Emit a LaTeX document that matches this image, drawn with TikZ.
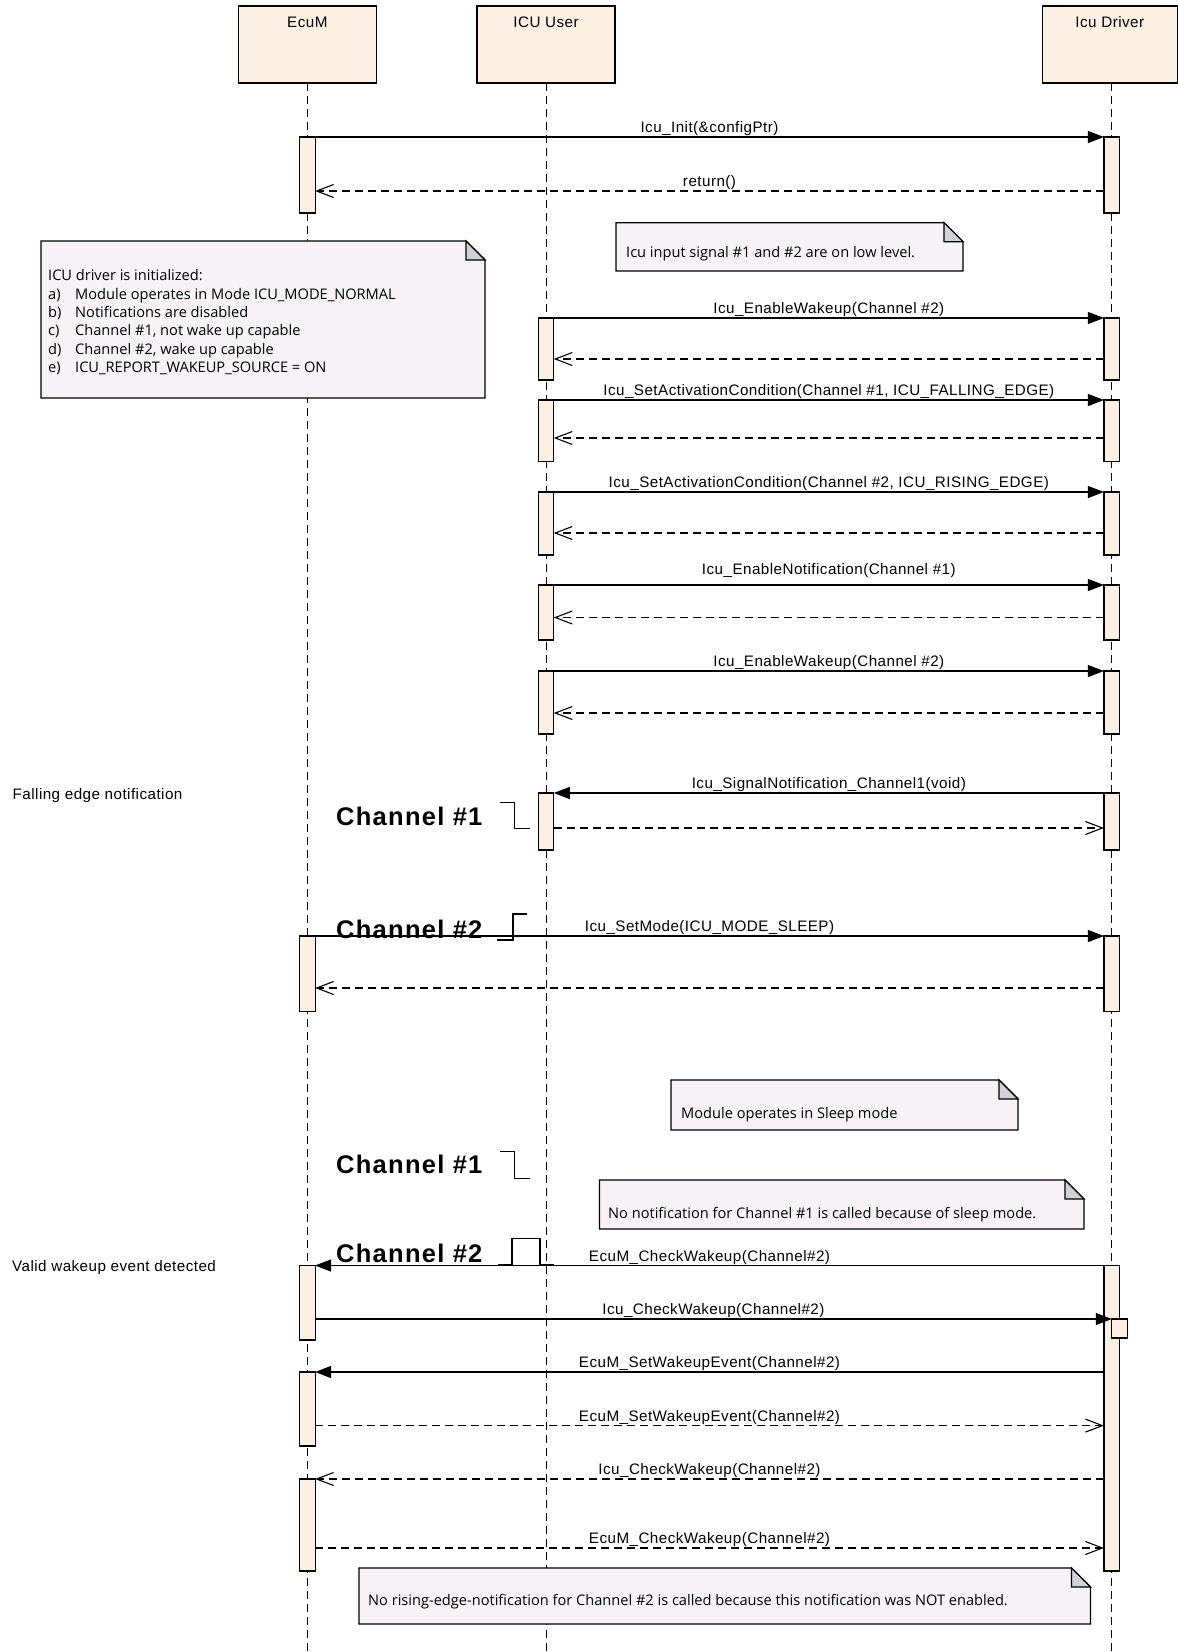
\documentclass[tikz,border=0pt]{standalone}
\usepackage{fontspec}
\setmainfont{Liberation Sans}
\newfontfamily\msgfont[LetterSpace=3]{Liberation Sans}
\newfontfamily\chanfontx[LetterSpace=5]{Liberation Sans}
\newfontfamily\notefont{Open Sans}
\usetikzlibrary{arrows.meta}
\definecolor{boxfill}{RGB}{251,240,225}
\definecolor{notefill}{RGB}{246,242,246}
\definecolor{foldfill}{RGB}{210,210,214}
\newcommand\drawnote[4]{%
  \path[notebody] (#1,#2) -- (#3-19,#2) -- (#3,#2+19) -- (#3,#4) -- (#1,#4) -- cycle;
  \path[notefold] (#3-19,#2) -- (#3-19,#2+19) -- (#3,#2+19) -- cycle;}
\begin{document}
\begin{tikzpicture}[x=1pt,y=-1pt,
  headbox/.style={draw, fill=boxfill, line width=1.1pt, minimum height=77pt, inner sep=0pt, outer sep=0pt},
  headtxt/.style={font=\msgfont\fontsize{15.2}{17}\selectfont, inner sep=0pt, anchor=base},
  lifeline/.style={line width=1pt, dash pattern=on 8pt off 5pt},
  actbar/.style={draw, fill=boxfill, line width=1.1pt, minimum width=15.5pt, inner sep=0pt, outer sep=0pt, anchor=north},
  call/.style={line width=1.1pt, -{Triangle[length=16pt,width=12pt]}},
  reply/.style={line width=1.1pt, dash pattern=on 8pt off 5pt, -{Straight Barb[length=17pt,width=13pt]}},
  msglbl/.style={font=\msgfont\fontsize{15.2}{17}\selectfont, inner sep=0pt, anchor=base, yshift=4.5pt},
  sidetxt/.style={font=\msgfont\fontsize{15.2}{17}\selectfont, inner sep=0pt, anchor=base west},
  chantxt/.style={font=\chanfontx\bfseries\fontsize{25.5}{30}\selectfont, inner sep=0pt, anchor=base west},
  signal/.style={line width=1.4pt},
  notebody/.style={draw, fill=notefill, line width=1.1pt},
  notefold/.style={draw, fill=foldfill, line width=1.1pt},
  notetxt/.style={font=\notefont\fontsize{14.6}{18.4}\selectfont, inner sep=0pt, anchor=base west},
]
\useasboundingbox (0,0) rectangle (1178,1652);
\coordinate (bottom) at (0,1652);
\coordinate (xE) at (307.3,0);
\coordinate (xU) at (546,0);
\coordinate (xD) at (1111.7,0);

% heads
\node[headbox, minimum width=138pt] (hE) at (307.3,44.5) {};
\node[headbox, minimum width=138pt] (hU) at (546,44.5) {};
\node[headbox, minimum width=135pt] (hD) at (1109.8,44.5) {};
\node[headtxt] (tE) at (307.3,27) {EcuM};
\node[headtxt] (tU) at (546,27) {ICU User};
\node[headtxt] (tD) at (1109.8,27) {Icu Driver};

% lifelines
\draw[lifeline] (hE.south -| xE) -- (xE |- bottom);
\draw[lifeline] (hU.south -| xU) -- (xU |- bottom);
\draw[lifeline] (hD.south -| xD) -- (xD |- bottom);

% activation bars
\node[actbar, minimum height=76pt]   (e1) at (307.3,137) {};
\node[actbar, minimum height=75.5pt] (e2) at (307.3,936) {};
\node[actbar, minimum height=74.5pt] (e3) at (307.3,1265.5) {};
\node[actbar, minimum height=74pt]   (e4) at (307.3,1372) {};
\node[actbar, minimum height=92pt]   (e5) at (307.3,1479) {};

\node[actbar, minimum height=62pt]   (u1) at (546,318) {};
\node[actbar, minimum height=61.5pt] (u2) at (546,400) {};
\node[actbar, minimum height=63pt]   (u3) at (546,492) {};
\node[actbar, minimum height=55pt]   (u4) at (546,585) {};
\node[actbar, minimum height=63pt]   (u5) at (546,671) {};
\node[actbar, minimum height=57pt]   (u6) at (546,793) {};

\node[actbar, minimum height=76pt]   (d1) at (1111.7,137) {};
\node[actbar, minimum height=62pt]   (d2) at (1111.7,318) {};
\node[actbar, minimum height=61.5pt] (d3) at (1111.7,400) {};
\node[actbar, minimum height=63pt]   (d4) at (1111.7,492) {};
\node[actbar, minimum height=55pt]   (d5) at (1111.7,585) {};
\node[actbar, minimum height=63pt]   (d6) at (1111.7,671) {};
\node[actbar, minimum height=57pt]   (d7) at (1111.7,793) {};
\node[actbar, minimum height=75.5pt] (d8) at (1111.7,936) {};
\node[actbar, minimum height=305.5pt] (d9) at (1111.7,1265.5) {};
\node[actbar, minimum height=19pt]   (d10) at (1119.5,1319) {};

% y levels of replies
\coordinate (y1) at (0,191);
\coordinate (y2) at (0,359);
\coordinate (y3) at (0,438);
\coordinate (y4) at (0,533);
\coordinate (y5) at (0,617.5);
\coordinate (y6) at (0,713);
\coordinate (y7) at (0,828);
\coordinate (y8) at (0,988);
\coordinate (y9) at (0,1425.6);
\coordinate (y10) at (0,1548);

% messages
\draw[call] (e1.north east) -- node[msglbl] {Icu\_Init(\&configPtr)} (d1.north west);
\draw[reply] (d1.west |- y1) -- node[msglbl] {return()} (e1.east |- y1);

\draw[call] (u1.north east) -- node[msglbl] {Icu\_EnableWakeup(Channel \#2)} (d2.north west);
\draw[reply] (d2.west |- y2) -- (u1.east |- y2);

\draw[call] (u2.north east) -- node[msglbl] {Icu\_SetActivationCondition(Channel \#1, ICU\_FALLING\_EDGE)} (d3.north west);
\draw[reply] (d3.west |- y3) -- (u2.east |- y3);

\draw[call] (u3.north east) -- node[msglbl] {Icu\_SetActivationCondition(Channel \#2, ICU\_RISING\_EDGE)} (d4.north west);
\draw[reply] (d4.west |- y4) -- (u3.east |- y4);

\draw[call] (u4.north east) -- node[msglbl, yshift=6.5pt] {Icu\_EnableNotification(Channel \#1)} (d5.north west);
\draw[reply] (d5.west |- y5) -- (u4.east |- y5);

\draw[call] (u5.north east) -- node[msglbl] {Icu\_EnableWakeup(Channel \#2)} (d6.north west);
\draw[reply] (d6.west |- y6) -- (u5.east |- y6);

\draw[call] (d7.north west) -- node[msglbl] {Icu\_SignalNotification\_Channel1(void)} (u6.north east);
\draw[reply] (u6.east |- y7) -- (d7.west |- y7);

\draw[call] (e2.north east) -- node[msglbl] {Icu\_SetMode(ICU\_MODE\_SLEEP)} (d8.north west);
\draw[reply] (d8.west |- y8) -- (e2.east |- y8);

\draw[call] (d9.north west) -- node[msglbl] {EcuM\_CheckWakeup(Channel\#2)} (e3.north east);
\draw[call] (e3.east |- d10.north) -- node[msglbl] {Icu\_CheckWakeup(Channel\#2)} (d10.north west);
\draw[call] (d9.west |- e4.north) -- node[msglbl] {EcuM\_SetWakeupEvent(Channel\#2)} (e4.north east);
\draw[reply] (e4.east |- y9) -- node[msglbl] {EcuM\_SetWakeupEvent(Channel\#2)} (d9.west |- y9);
\draw[reply] (d9.west |- e5.north) -- node[msglbl] {Icu\_CheckWakeup(Channel\#2)} (e5.north east);
\draw[reply] (e5.east |- y10) -- node[msglbl] {EcuM\_CheckWakeup(Channel\#2)} (d9.west |- y10);

% notes
\drawnote{41}{241}{485}{398}
\node[notetxt, anchor=north west, align=left] (n1) at (48,269.5) {ICU driver is initialized:\\
\makebox[27pt][l]{a)}Module operates in Mode ICU\_MODE\_NORMAL\\
\makebox[27pt][l]{b)}Notifications are disabled\\
\makebox[27pt][l]{c)}Channel \#1, not wake up capable\\
\makebox[27pt][l]{d)}Channel \#2, wake up capable\\
\makebox[27pt][l]{e)}ICU\_REPORT\_WAKEUP\_SOURCE = ON};

\drawnote{616}{222.7}{963}{271}
\node[notetxt] (n2) at (626,257) {Icu input signal \#1 and \#2 are on low level.};

\drawnote{671}{1080}{1018}{1130}
\node[notetxt] (n3) at (681,1118) {Module operates in Sleep mode};

\drawnote{599.5}{1180}{1084}{1229}
\node[notetxt] (n4) at (608,1218) {No notification for Channel \#1 is called because of sleep mode.};

\drawnote{359}{1568}{1090.5}{1624}
\node[notetxt] (n5) at (368,1605.5) {No rising-edge-notification for Channel \#2 is called because this notification was NOT enabled.};

% side texts
\node[sidetxt] (s1) at (12.5,799.5) {Falling edge notification};
\node[sidetxt] (s2) at (12,1271) {Valid wakeup event detected};

% channel labels and signals
\node[chantxt] (c1) at (336,825) {Channel \#1};
\draw[signal] (500,802.3) -- (514.3,802.3) -- (514.3,828.3) -- (530,828.3);
\node[chantxt] (c2) at (336,938.5) {Channel \#2};
\draw[signal] (497,940) -- (513,940) -- (513,914) -- (527,914);
\node[chantxt] (c3) at (336,1173.3) {Channel \#1};
\draw[signal] (500,1151.7) -- (514.3,1151.7) -- (514.3,1178.3) -- (530,1178.3);
\node[chantxt] (c4) at (336,1262.7) {Channel \#2};
\draw[signal] (497.7,1265) -- (512,1265) -- (512,1238.7) -- (540,1238.7) -- (540,1265) -- (554.3,1265);
\end{tikzpicture}
\end{document}
